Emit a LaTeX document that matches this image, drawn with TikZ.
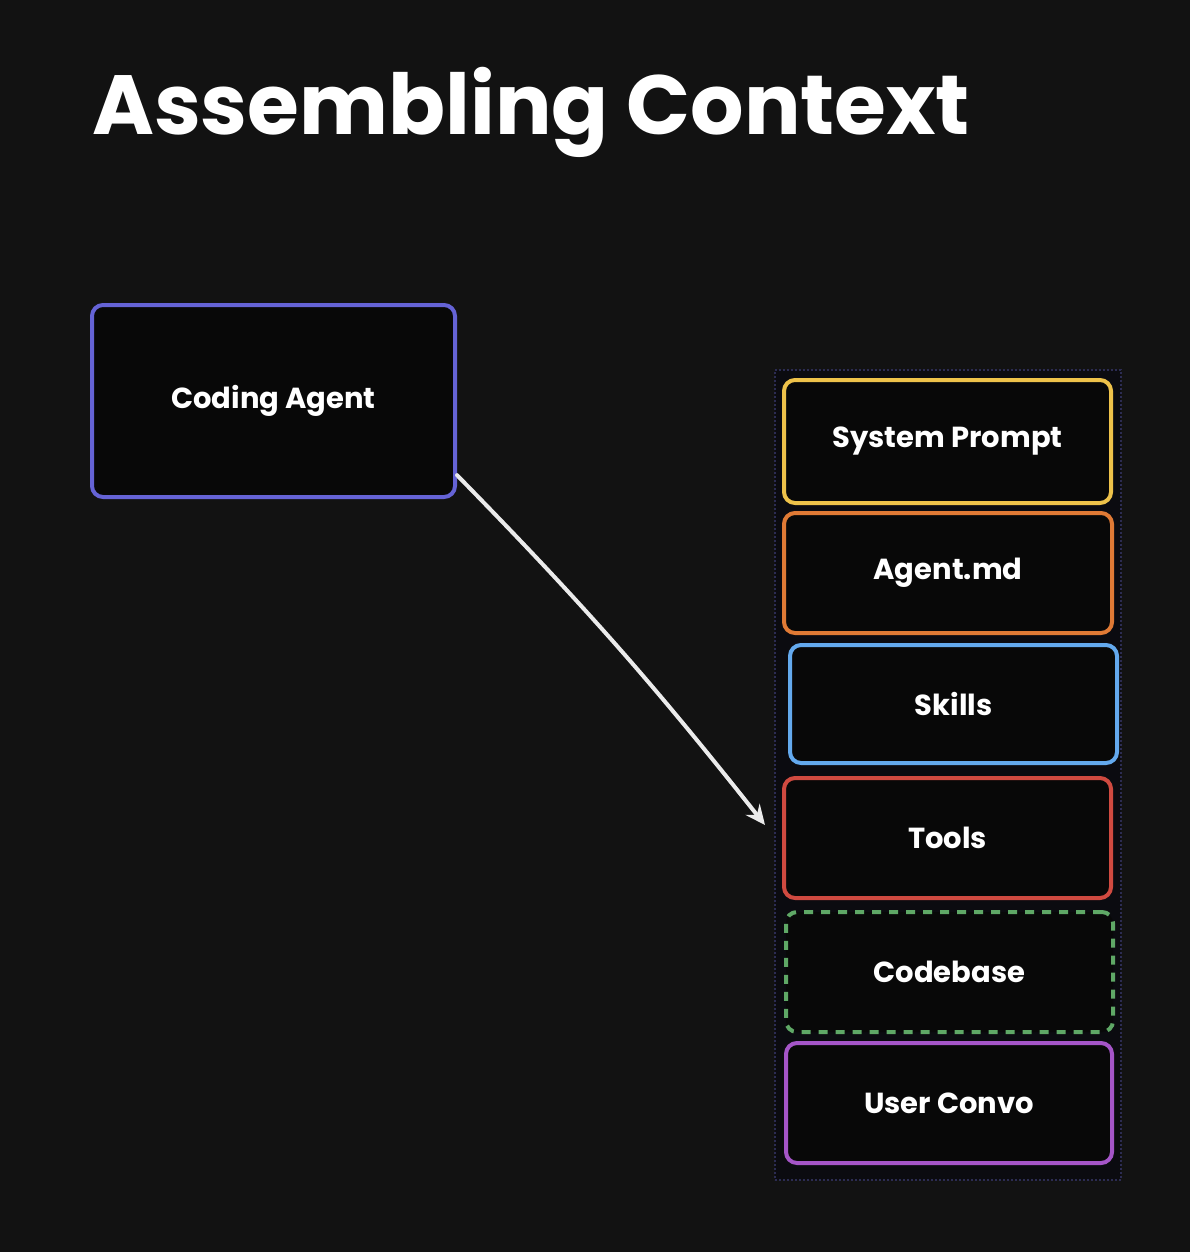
\documentclass[tikz,border=0pt]{standalone}
\usepackage{fontspec}
\setmainfont{Poppins}
\usetikzlibrary{arrows.meta}
\definecolor{bg}{HTML}{121212}
\definecolor{boxfill}{HTML}{080808}
\definecolor{cagent}{HTML}{6563D6}
\definecolor{cyellow}{HTML}{EEC24A}
\definecolor{corange}{HTML}{E07A35}
\definecolor{cblue}{HTML}{63A9EE}
\definecolor{cred}{HTML}{D04A40}
\definecolor{cgreen}{HTML}{5FA866}
\definecolor{cpurple}{HTML}{A555C8}
\definecolor{contborder}{HTML}{2C2C52}
\definecolor{contfill}{HTML}{0B0B10}
\tikzset{
  x=1pt, y=-1pt,
  card/.style={draw, line width=4pt, rounded corners=11pt, fill=boxfill,
    text=white, font=\fontsize{29}{32}\selectfont\bfseries, inner sep=0pt},
}
\begin{document}
\begin{tikzpicture}
\fill[bg] (0,0) rectangle (1190,1252);
\useasboundingbox (0,0) rectangle (1190,1252);
\node[anchor=base west, text=white, inner sep=0pt,
  font=\fontsize{84}{90}\selectfont\bfseries] (title) at (92,135) {Assembling Context};
\node[draw=contborder, line width=2pt, dotted, fill=contfill, minimum width=346pt,
  minimum height=810pt, inner sep=0pt] (cont) at (948,775) {};
\node[card, draw=cagent, minimum width=363pt, minimum height=192pt] (ca) at (273.5,401) {Coding Agent};
\node[card, draw=cyellow, minimum width=327pt, minimum height=123pt] (sp) at (947.5,441.5) {System Prompt};
\node[card, draw=corange, minimum width=328pt, minimum height=120pt] (am) at (948,573) {Agent.md};
\node[card, draw=cblue, minimum width=327pt, minimum height=118pt] (sk) at (953.5,704) {Skills};
\node[card, draw=cred, minimum width=327pt, minimum height=120pt] (tl) at (947.5,838) {Tools};
\node[card, draw=cgreen, dash pattern=on 9pt off 8pt, minimum width=327pt, minimum height=120pt] (cb) at (949.5,972) {Codebase};
\node[card, draw=cpurple, minimum width=326pt, minimum height=120pt] (uc) at (949,1103) {User Convo};
\coordinate (tip) at (765,825);
\draw[white!92!black, line width=4pt, line cap=round, -{Stealth[length=20pt, width=18pt, inset=7pt]}]
  (ca.-22) to[bend left=3] (tip);
\end{tikzpicture}
\end{document}
